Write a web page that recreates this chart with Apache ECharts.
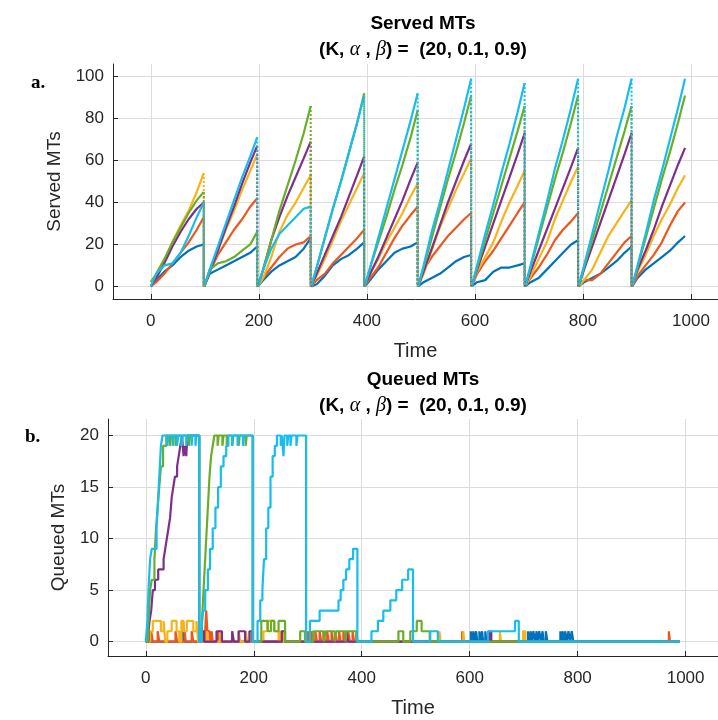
<!DOCTYPE html>
<html><head><meta charset="utf-8">
<script src="https://cdn.jsdelivr.net/npm/echarts@6/dist/echarts.min.js"></script>
<style>html,body{margin:0;padding:0;background:#fff}#c{width:718px;height:720px}</style>
</head><body><div id="c"></div>
<script>
// ---------- data ----------
const seriesColors = ['#0072BD', '#EE561B', '#F9B318', '#7E2F8E', '#6AAE27', '#17BDEF'];
const xTicks = [0, 200, 400, 600, 800, 1000];
const servedTicks = [0, 20, 40, 60, 80, 100];
const queuedTicks = [0, 5, 10, 15, 20];

// Served MTs: 10 cycles, 8 samples per cycle
const servedTime = [
  0,10,25,40,55,70,85,98,
  99,109,124,139,154,169,184,197,
  198,208,223,238,253,268,283,296,
  297,307,322,337,352,367,382,395,
  396,406,421,436,451,466,481,494,
  495,505,520,535,550,565,580,593,
  594,604,619,634,649,664,679,692,
  693,703,718,733,748,763,778,791,
  792,802,817,832,847,862,877,890,
  891,901,916,931,946,961,976,989];
const servedBlue = [
  0,3,7,10,14,17,19,20,
  0,6,8,10,12,14,16,19,
  0,3,7,10,12,14,18,23,
  0,1,5,10,13,15,18,21,
  0,3,8,12,16,18,19,21,
  0,2,4,6,9,12,14,15,
  0,2,3,7,9,9,10,11,
  0,2,4,8,12,16,20,22,
  0,2,4,6,9,12,16,19,
  0,4,8,11,14,17,21,24];
const servedOrange = [
  0,2,6,11,16,21,27,33,
  0,7,15,21,27,32,38,42,
  0,4,9,14,18,20,21,24,
  0,3,6,11,15,19,23,27,
  0,4,9,16,23,29,34,38,
  0,8,14,19,24,28,32,35,
  0,6,12,17,23,29,35,40,
  0,4,9,15,22,27,31,35,
  0,3,3,6,11,16,21,24,
  0,5,10,15,21,29,36,40];
const servedYellow = [
  0,4,12,21,29,36,45,54,
  0,7,17,27,36,46,55,63,
  0,4,14,26,34,40,47,53,
  0,5,13,22,31,39,47,54,
  0,6,13,21,28,35,43,49,
  0,6,17,28,37,46,54,61,
  0,7,14,21,31,40,48,55,
  0,5,13,21,32,41,50,57,
  0,3,8,16,24,30,36,41,
  0,7,15,24,32,39,47,53];
const servedPurple = [
  0,4,11,19,26,32,37,40,
  0,7,17,28,38,49,59,67,
  0,8,22,33,43,52,61,69,
  0,6,15,24,33,43,53,62,
  0,6,14,23,32,41,51,59,
  0,7,18,29,40,50,60,68,
  0,8,19,30,41,52,63,73,
  0,7,17,27,37,47,57,66,
  0,8,19,30,41,52,63,73,
  0,8,17,27,38,48,58,66];
const servedGreen = [
  2,6,13,21,28,35,41,45,
  0,8,11,12,14,17,20,26,
  0,8,22,36,48,60,73,86,
  0,9,23,37,50,64,78,92,
  0,9,21,33,46,58,71,84,
  0,9,23,37,51,64,78,91,
  0,9,22,35,48,61,74,86,
  0,9,23,37,51,64,78,91,
  0,9,22,35,48,61,74,86,
  0,9,23,37,51,64,78,91];
const servedCyan = [
  0,6,10,11,16,24,33,40,
  0,8,19,30,41,52,62,71,
  0,8,18,25,29,33,37,38,
  0,9,23,37,50,64,78,91,
  0,9,23,37,51,65,79,92,
  0,10,26,40,55,70,85,99,
  0,10,25,39,54,68,83,97,
  0,10,25,40,56,70,85,99,
  0,10,25,40,55,71,85,99,
  0,10,25,41,55,70,85,99];

// Queued MTs: change points [time, value] (value held until next point)
const queuedBlue = [[0,0],[68,1],[69,2],[71,0],[602,1],[604,0],[607,1],[609,0],[612,1],[614,0],[618,1],[620,0],[623,1],[625,0],[629,1],[631,0],
  [708,1],[710,0],[713,1],[715,0],[718,1],[721,0],[724,1],[726,0],[729,1],[732,0],[735,1],[737,0],[741,1],[744,0],
  [768,1],[770,0],[772,1],[775,0],[777,1],[780,0],[783,1],[786,0],[789,1],[792,0],[989,0]];
const queuedOrange = [[0,0],[10,1],[13,0],[22,1],[25,0],[55,1],[58,0],[72,1],[74,0],[85,1],[88,0],[110,1],[112,3],[114,1],[118,0],[122,1],[124,0],[134,1],[136,0],
  [300,1],[303,0],[307,1],[310,0],[314,1],[317,0],[322,1],[325,0],[329,1],[332,0],[336,1],[339,0],[344,1],[347,0],[351,1],[354,0],[358,1],[361,0],[366,1],[369,0],[375,1],[378,0],[383,1],[386,0],[390,1],[392,0],
  [586,1],[588,0],[969,1],[971,0],[989,0]];
const queuedYellow = [[0,0],[8,1],[13,2],[28,1],[33,2],[36,0],[40,1],[48,2],[57,1],[62,0],[66,2],[70,1],[76,2],[88,1],[94,2],[97,0],
  [113,1],[116,0],[138,1],[141,0],[160,1],[163,0],[172,1],[175,0],[185,1],[188,0],[193,1],[196,0],
  [218,1],[225,2],[238,1],[246,0],[250,1],[254,0],[544,1],[546,0],[588,1],[590,0],[656,1],[658,0],[699,1],[703,0],[989,0]];
const queuedPurple = [[0,0],[5,1],[7,2],[10,3],[13,5],[17,6],[23,7],[33,8],[36,9],[39,10],[42,11],[45,12],[48,14],[51,15],[54,16],[58,17],[61,18],[64,19],[67,20],[70,18],[72,19],[75,18],[77,20],[99,0],
  [104,1],[108,0],[131,1],[141,0],[160,1],[163,0],[172,1],[184,0],[192,1],[197,0],[252,1],[258,0],[372,1],[375,0],[636,1],[640,0],[989,0]];
const queuedGreen = [[0,0],[4,1],[6,3],[8,5],[11,6],[16,8],[19,11],[22,13],[25,15],[28,17],[32,19],[38,20],[45,19],[47,20],[55,19],[57,20],[66,19],[68,20],[80,19],[82,20],[99,0],
  [104,2],[106,4],[108,6],[110,8],[112,10],[114,12],[116,14],[118,16],[121,18],[124,19],[127,20],[133,19],[135,20],[142,19],[144,20],[150,19],[151,20],[160,19],[162,20],[172,19],[174,20],[185,19],[187,20],[198,0],
  [214,2],[226,1],[232,2],[238,1],[246,2],[258,0],[286,1],[295,0],[310,1],[330,0],[333,1],[350,0],[353,1],[370,0],[372,1],[391,0],
  [468,1],[477,0],[490,1],[502,2],[511,1],[526,0],[989,0]];
const queuedCyan = [[0,0],[3,2],[5,5],[8,8],[11,9],[20,11],[22,13],[24,15],[26,17],[28,19],[31,20],[40,19],[42,20],[50,19],[52,20],[58,19],[60,20],[66,19],[68,20],[75,19],[77,20],[85,19],[86,20],[92,19],[94,20],[99,0],
  [103,1],[106,3],[110,5],[115,7],[119,9],[124,11],[129,13],[134,15],[139,17],[144,18],[149,19],[153,20],[160,19],[162,20],[170,19],[171,20],[180,19],[182,20],[198,0],
  [207,2],[212,4],[216,5],[219,8],[223,11],[227,13],[231,16],[235,18],[239,19],[243,20],[250,19],[252,20],[255,18],[257,20],[262,19],[264,20],[268,19],[270,20],[279,19],[281,20],[297,0],
  [304,2],[322,3],[357,4],[361,5],[366,6],[371,7],[377,8],[384,9],[392,0],
  [418,1],[430,2],[440,3],[453,4],[464,5],[475,6],[486,7],[495,0],
  [527,1],[541,0],[634,1],[684,2],[691,0],[989,0]];

// ---------- build ----------
const servedSets = [servedBlue, servedOrange, servedYellow, servedPurple, servedGreen, servedCyan];
const queuedSets = [queuedBlue, queuedOrange, queuedYellow, queuedPurple, queuedGreen, queuedCyan];
const perCycle = 8;
const FONT = '"Liberation Sans", Arial, Helvetica, sans-serif';
const AX = '#262626';
const LW = 2.2;

function lineData(vals) {
  const out = [];
  for (let i = 0; i < vals.length; i++) {
    out.push([servedTime[i], vals[i]]);
    if (i % perCycle === perCycle - 1 && i < vals.length - 1) out.push([servedTime[i], null]);
  }
  return out;
}
function dropData(vals) {
  const out = [];
  for (let i = perCycle - 1; i < vals.length - 1; i += perCycle) {
    out.push([servedTime[i], vals[i]], [servedTime[i], 0], [servedTime[i], null]);
  }
  return out;
}

const series = [];
servedSets.forEach((v, k) => series.push({
  type: 'line', xAxisIndex: 0, yAxisIndex: 0, data: lineData(v), showSymbol: false,
  connectNulls: false, lineStyle: { color: seriesColors[k], width: LW }, itemStyle: { color: seriesColors[k] }
}));
servedSets.forEach((v, k) => series.push({
  type: 'line', xAxisIndex: 0, yAxisIndex: 0, data: dropData(v), showSymbol: false,
  connectNulls: false, lineStyle: { color: seriesColors[k], width: 2, type: [2, 2] }, itemStyle: { color: seriesColors[k] }
}));
queuedSets.forEach((v, k) => series.push({
  type: 'line', xAxisIndex: 1, yAxisIndex: 1, data: v, step: 'end', showSymbol: false,
  lineStyle: { color: seriesColors[k], width: LW }, itemStyle: { color: seriesColors[k] }
}));

const fmt = v => String(v);
function xAxis(gridIndex, max) {
  return {
    type: 'value', gridIndex, min: -70, max,
    name: 'Time', nameLocation: 'middle', nameGap: 42,
    nameTextStyle: { fontSize: 20, color: AX, fontFamily: FONT },
    axisLine: { show: true, onZero: false, lineStyle: { color: AX, width: 1 } },
    axisTick: { show: true, inside: true, length: 5, customValues: xTicks, lineStyle: { color: AX } },
    axisLabel: { customValues: xTicks, formatter: fmt, fontSize: 17, color: AX, fontFamily: FONT, margin: 14 },
    splitLine: { show: true, lineStyle: { color: '#dcdcdc', width: 1 } }
  };
}
function yAxis(gridIndex, min, max, ticks, name, gap) {
  return {
    type: 'value', gridIndex, min, max,
    name, nameLocation: 'middle', nameGap: gap,
    nameTextStyle: { fontSize: 19, color: AX, fontFamily: FONT },
    axisLine: { show: true, onZero: false, lineStyle: { color: AX, width: 1 } },
    axisTick: { show: true, inside: true, length: 5, customValues: ticks, lineStyle: { color: AX } },
    axisLabel: { customValues: ticks, formatter: fmt, fontSize: 17, color: AX, fontFamily: FONT, margin: 9 },
    splitLine: { show: true, lineStyle: { color: '#dcdcdc', width: 1 } }
  };
}

const titleStyle = { fontSize: 19, fontWeight: 'bold', color: '#000', fontFamily: FONT,
  rich: { g: { fontFamily: '"Liberation Serif", "DejaVu Serif", serif', fontStyle: 'italic', fontWeight: 'normal', fontSize: 20, color: '#000' } } };

const option = {
  animation: false,
  backgroundColor: '#fff',
  title: [
    { text: 'Served MTs', left: 418, top: 9, textAlign: 'center', textStyle: titleStyle },
    { text: '(K, {g|α} , {g|β}) =  (20, 0.1, 0.9)', left: 418, top: 35, textAlign: 'center', textStyle: titleStyle },
    { text: 'Queued MTs', left: 418, top: 365, textAlign: 'center', textStyle: titleStyle },
    { text: '(K, {g|α} , {g|β}) =  (20, 0.1, 0.9)', left: 418, top: 391, textAlign: 'center', textStyle: titleStyle }
  ],
  graphic: [
    { type: 'text', left: 31, top: 74, style: { text: 'a.', font: 'bold 19px "Liberation Serif", serif', fill: '#000' } },
    { type: 'text', left: 25, top: 428, style: { text: 'b.', font: 'bold 19px "Liberation Serif", serif', fill: '#000' } }
  ],
  grid: [
    { left: 113, top: 64, width: 605, height: 235 },
    { left: 108, top: 419, width: 610, height: 237 }
  ],
  xAxis: [xAxis(0, 1050), xAxis(1, 1060)],
  yAxis: [yAxis(0, -6, 106, servedTicks, 'Served MTs', 45), yAxis(1, -1.4, 21.6, queuedTicks, 'Queued MTs', 40)],
  series
};

const chart = echarts.init(document.getElementById('c'), null, { renderer: 'canvas' });
chart.setOption(option);
</script>
</body></html>
